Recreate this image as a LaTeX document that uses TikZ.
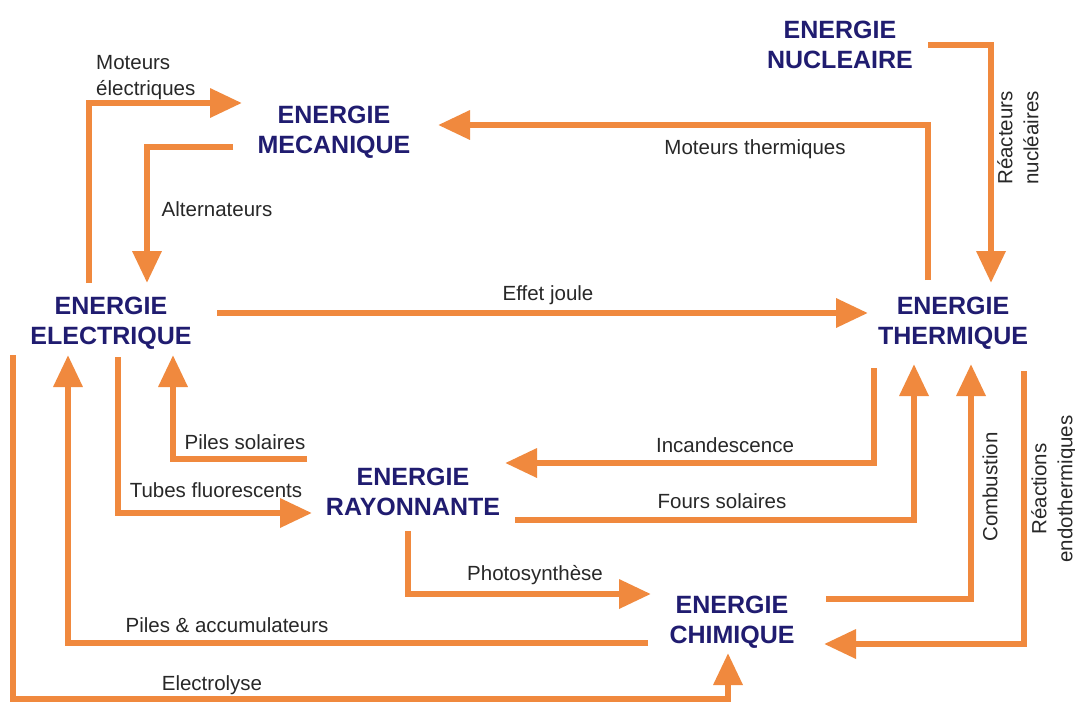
\documentclass[tikz,border=0pt]{standalone}
\usepackage{fontspec}
\setmainfont{Liberation Sans}
\usetikzlibrary{arrows.meta}
\definecolor{flow}{RGB}{240,137,62}
\definecolor{navy}{RGB}{32,28,112}
\definecolor{lbl}{RGB}{40,40,40}
\begin{document}
\begin{tikzpicture}[x=1pt,y=-1pt,
  energy/.style={font=\fontsize{25}{30}\selectfont\bfseries, text=navy, align=center, inner sep=0pt},
  lab/.style={font=\fontsize{20.5}{26}\selectfont, text=lbl, inner sep=0pt},
  arr/.style={draw=flow, line width=6.5pt, line join=miter, -{Triangle[length=32pt,width=28pt]}},
  ln/.style={draw=flow, line width=6.5pt, line join=miter}]
\useasboundingbox[fill=white] (0,0) rectangle (1075,702);

% energy nodes
\node[energy] (mec)   at (334,132) {ENERGIE\\MECANIQUE};
\node[energy] (nuc)   at (840,45)  {ENERGIE\\NUCLEAIRE};
\node[energy] (elec)  at (111,323) {ENERGIE\\ELECTRIQUE};
\node[energy] (therm) at (953,323) {ENERGIE\\THERMIQUE};
\node[energy] (ray)   at (413,492) {ENERGIE\\RAYONNANTE};
\node[energy] (chim)  at (732,622) {ENERGIE\\CHIMIQUE};

% labels
\node[lab, align=left, anchor=west] (lmot) at (96,78) {Moteurs\\électriques};
\node[lab] (lalt) at (217,209) {Alternateurs};
\node[lab] (lmth) at (755,149) {Moteurs thermiques};
\node[lab, align=center, rotate=90] (lrea) at (1018,138) {Réacteurs\\nucléaires};
\node[lab] (ljou) at (548,295) {Effet joule};
\node[lab] (lpso) at (245,442) {Piles solaires};
\node[lab] (ltub) at (216,490) {Tubes fluorescents};
\node[lab] (linc) at (725,445) {Incandescence};
\node[lab] (lfou) at (722,501) {Fours solaires};
\node[lab] (lpho) at (535,575) {Photosynthèse};
\node[lab] (lpil) at (227,625) {Piles \& accumulateurs};
\node[lab] (lele) at (212,685) {Electrolyse};
\node[lab, rotate=90] (lcom) at (990,487) {Combustion};
\node[lab, align=center, rotate=90] (lend) at (1054,489) {Réactions\\endothermiques};

% connector end points
\coordinate (a1) at (89,283);   \coordinate (a2) at (242,103);
\coordinate (b1) at (233,147);  \coordinate (b2) at (147,283);
\coordinate (c1) at (928,280);  \coordinate (c2) at (438,125);
\coordinate (d1) at (928,45);   \coordinate (d2) at (991,283);
\coordinate (e1) at (217,313);  \coordinate (e2) at (868,313);
\coordinate (f1) at (307,459);  \coordinate (f2) at (173,355);
\coordinate (g1) at (118,357);  \coordinate (g2) at (312,513);
\coordinate (h1) at (874,368);  \coordinate (h2) at (505,463);
\coordinate (i1) at (515,520);  \coordinate (i2) at (914,364);
\coordinate (j1) at (408,531);  \coordinate (j2) at (651,594);
\coordinate (k1) at (826,599);  \coordinate (k2) at (971,364);
\coordinate (l1) at (1024,371); \coordinate (l2) at (824,644);
\coordinate (m1) at (648,643);  \coordinate (m2) at (68,355);
\coordinate (n1) at (13,355);   \coordinate (n2) at (13,699); \coordinate (n3) at (728,653);

% connectors
\draw[arr] (a1) |- (a2);          % Moteurs electriques
\draw[arr] (b1) -| (b2);          % Alternateurs
\draw[arr] (c1) |- (c2);          % Moteurs thermiques
\draw[arr] (d1) -| (d2);          % Reacteurs nucleaires
\draw[arr] (e1) -- (e2);          % Effet joule
\draw[arr] (f1) -| (f2);          % Piles solaires
\draw[arr] (g1) |- (g2);          % Tubes fluorescents
\draw[arr] (h1) |- (h2);          % Incandescence
\draw[arr] (i1) -| (i2);          % Fours solaires
\draw[arr] (j1) |- (j2);          % Photosynthese
\draw[arr] (k1) -| (k2);          % Combustion
\draw[arr] (l1) |- (l2);          % Reactions endothermiques
\draw[arr] (m1) -| (m2);          % Piles & accumulateurs
\draw[arr] (n1) -- (n2) -| (n3);  % Electrolyse
\end{tikzpicture}
\end{document}
